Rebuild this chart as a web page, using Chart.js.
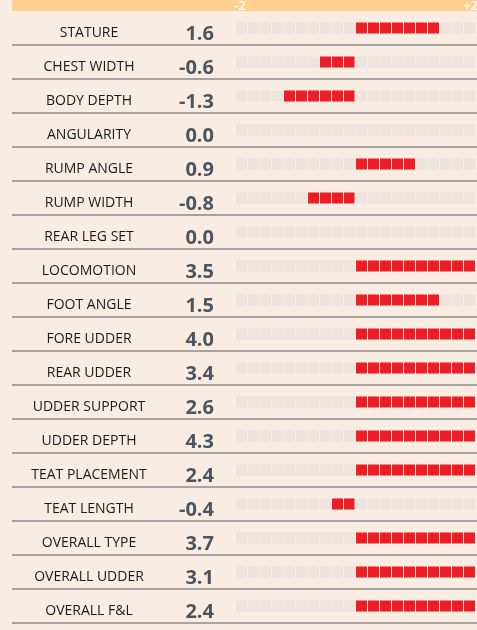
<!DOCTYPE html>
<html>
<head>
<meta charset="utf-8">
<script src="https://cdn.jsdelivr.net/npm/chart.js@4"></script>
<style>
  html, body { margin: 0; padding: 0; background: #F9EDE3; }
  #wrap { width: 477px; height: 630px; }
  canvas { display: block; }
</style>
</head>
<body>
<div id="wrap"><canvas id="c" width="477" height="630"></canvas></div>
<script>
// ---- data ----
const traits = ["STATURE", "CHEST WIDTH", "BODY DEPTH", "ANGULARITY", "RUMP ANGLE", "RUMP WIDTH",
  "REAR LEG SET", "LOCOMOTION", "FOOT ANGLE", "FORE UDDER", "REAR UDDER", "UDDER SUPPORT",
  "UDDER DEPTH", "TEAT PLACEMENT", "TEAT LENGTH", "OVERALL TYPE", "OVERALL UDDER", "OVERALL F&L"];
const values = ["1.6", "-0.6", "-1.3", "0.0", "0.9", "-0.8", "0.0", "3.5", "1.5", "4.0", "3.4", "2.6",
  "4.3", "2.4", "-0.4", "3.7", "3.1", "2.4"];
// drawn extent of the red squares on the -2..+2 scale (each square = 0.2)
const barEnds = [1.4, -0.6, -1.2, 0, 1.0, -0.8, 0, 2, 1.4, 2, 2, 2, 2, 2, -0.4, 2, 2, 2];
const scaleMin = -2, scaleMax = 2, squareStep = 0.2;
const tickLabels = ["-2", "+2"];

const BG = "#F9EDE3";

const decor = {
  id: "decor",
  beforeDraw(chart) {
    const ctx = chart.ctx;
    ctx.save();
    ctx.fillStyle = BG;
    ctx.fillRect(0, 0, chart.width, chart.height);
    ctx.fillStyle = "#FFD08E";
    ctx.fillRect(12, 0, chart.width - 12, 11);
    ctx.restore();
  },
  afterDraw(chart) {
    const ctx = chart.ctx;
    const y = chart.scales.y, x = chart.scales.x;
    ctx.save();
    // header tick labels
    ctx.fillStyle = "#FFFFFF";
    ctx.font = "600 13px 'Open Sans'";
    ctx.textBaseline = "alphabetic";
    ctx.textAlign = "left";
    ctx.fillText(tickLabels[0], x.getPixelForValue(scaleMin) - 1, 10);
    ctx.textAlign = "right";
    ctx.fillText(tickLabels[1], x.getPixelForValue(scaleMax) + 3, 10);
    // rows
    traits.forEach((t, i) => {
      const cy = y.getPixelForValue(i);
      ctx.fillStyle = "#1A1A1A";
      ctx.font = "14px 'Open Sans'";
      ctx.textAlign = "center";
      ctx.fillText(t, 89, cy + 9);
      ctx.fillStyle = "#4A5562";
      ctx.font = "bold 20px 'Open Sans'";
      ctx.textAlign = "right";
      ctx.fillText(values[i], 214, cy + 11.5);
      // separator below row
      const sep = cy + 17;
      ctx.fillStyle = "#A9A29E";
      ctx.fillRect(12, sep - 1, chart.width - 12, 2);
    });
    ctx.restore();
  }
};

new Chart(document.getElementById("c"), {
  type: "bar",
  data: {
    labels: traits,
    datasets: [
      {
        label: "score",
        data: barEnds.map(v => [0, v]),
        backgroundColor: "#EE1C25",
        barThickness: 11,
        grouped: false,
        inflateAmount: 0,
        order: 0
      },
      {
        label: "track",
        data: traits.map(() => [scaleMin, scaleMax]),
        backgroundColor: "#EEE3DF",
        barThickness: 11,
        grouped: false,
        inflateAmount: 0,
        order: 1
      }
    ]
  },
  options: {
    indexAxis: "y",
    responsive: false,
    animation: false,
    devicePixelRatio: 1,
    layout: { padding: { left: 235, right: 2, top: 11, bottom: 7 } },
    plugins: { legend: { display: false }, tooltip: { enabled: false } },
    scales: {
      x: {
        type: "linear",
        position: "top",
        min: scaleMin,
        max: scaleMax,
        ticks: { display: false, stepSize: squareStep, maxTicksLimit: 50 },
        grid: { color: BG, lineWidth: 1, z: 1, drawTicks: false },
        border: { display: false },
        afterFit(s) { s.height = 0; }
      },
      y: {
        display: false,
        offset: true
      }
    }
  },
  plugins: [decor]
});
</script>
</body>
</html>
